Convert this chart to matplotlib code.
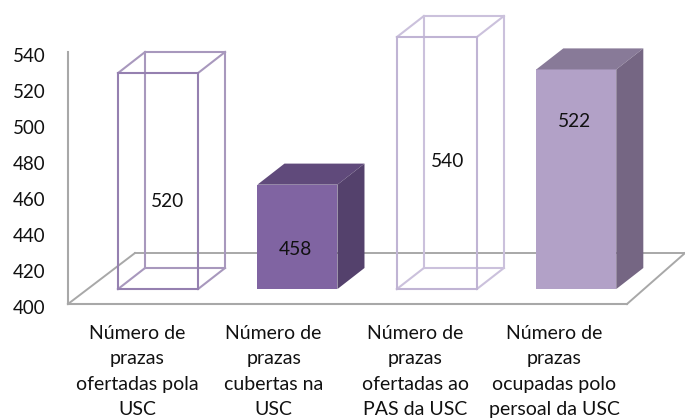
import matplotlib
matplotlib.use("Agg")
import matplotlib.pyplot as plt
from matplotlib.patches import Polygon
from matplotlib.transforms import ScaledTranslation

# Chart data
categories = [
    "Número de\nprazas\nofertadas pola\nUSC",
    "Número de\nprazas\ncubertas na\nUSC",
    "Número de\nprazas\nofertadas ao\nPAS da USC",
    "Número de\nprazas\nocupadas polo\npersoal da USC",
]
values = [520, 458, 540, 522]
y_ticks = [400, 420, 440, 460, 480, 500, 520, 540]

# Fake 3D geometry, in data units
bar_w = 0.574
depth_x = 0.194
depth_y = 11.7
base = 8.3       # the bars stand this far above the front floor line
floor_d = 28.3

W, H = 685, 419
plt.rcParams["font.family"] = ["Lato", "DejaVu Sans"]
fig = plt.figure(figsize=(W / 100, H / 100), dpi=100)
ax = fig.add_axes([68 / W, 1 - 304 / H, (627 - 68) / W, (304 - 52) / H])
ax.set_xlim(-0.6456, 3.364)
ax.set_ylim(400, 540)
ax.patch.set_visible(False)

for s in ["top", "right"]:
    ax.spines[s].set_visible(False)
for s in ["left", "bottom"]:
    ax.spines[s].set_color("#a8a8a8")
    ax.spines[s].set_linewidth(1.5)

ax.set_yticks(y_ticks)
ax.set_xticks([])
ax.tick_params(axis="y", length=0, pad=16, labelsize=13.5, labelcolor="#111111")
# tick labels sit a little below their nominal height in the reference
for tick in ax.yaxis.get_major_ticks():
    tick.label1.set_transform(tick.label1.get_transform() + ScaledTranslation(0, -3 / 100, fig.dpi_scale_trans))

# Floor lines behind the bars
x0, x1 = ax.get_xlim()
floor_color = "#a8a8a8"
ax.plot([x0, x0 + 0.48], [400, 400 + floor_d], color=floor_color, lw=1.4, clip_on=False, zorder=1)
ax.plot([x0 + 0.48, x1 + 0.416], [400 + floor_d, 400 + floor_d], color=floor_color, lw=1.4, clip_on=False, zorder=1)
ax.plot([x1, x1 + 0.416], [400, 400 + floor_d], color=floor_color, lw=1.4, clip_on=False, zorder=1)


def wire_bar(x, top, c_front, c_back):
    l, r = x - bar_w / 2, x + bar_w / 2
    b = 400 + base
    t = top + base
    dx, dy = depth_x, depth_y
    kw = dict(clip_on=False, zorder=3, solid_joinstyle="miter")
    # back box first
    ax.plot([l + dx, r + dx, r + dx, l + dx, l + dx], [b + dy, b + dy, t + dy, t + dy, b + dy], color=c_back, lw=1.5, **kw)
    ax.plot([l, l + dx], [t, t + dy], color=c_back, lw=1.5, **kw)
    ax.plot([r, r + dx], [t, t + dy], color=c_back, lw=1.5, **kw)
    ax.plot([l, l + dx], [b, b + dy], color=c_back, lw=1.5, **kw)
    ax.plot([r, r + dx], [b, b + dy], color=c_back, lw=1.5, **kw)
    ax.plot([l, r, r, l, l], [b, b, t, t, b], color=c_front, lw=1.5, **kw)


def solid_bar(x, top, c_front, c_top, c_side):
    l, r = x - bar_w / 2, x + bar_w / 2
    b = 400 + base
    t = top + base
    dx, dy = depth_x, depth_y
    kw = dict(clip_on=False, zorder=3, lw=0)
    ax.add_patch(Polygon([(l, b), (r, b), (r, t), (l, t)], fc=c_front, **kw))
    ax.add_patch(Polygon([(l, t), (r, t), (r + dx, t + dy), (l + dx, t + dy)], fc=c_top, **kw))
    ax.add_patch(Polygon([(r, b), (r + dx, b + dy), (r + dx, t + dy), (r, t)], fc=c_side, **kw))


wire_bar(0, values[0], "#9580b0", "#a898bd")
solid_bar(1, values[1], "#8064a2", "#604a7b", "#54416c")
wire_bar(2, values[2], "#c0b4d4", "#cbc1dc")
solid_bar(3, values[3], "#b2a1c7", "#887a98", "#756683")

# Value labels sit inside the bars, not at a fixed height
label_x = [0.07, 0.985, 2.08, 2.985]
label_y = [456.7, 430.5, 479.3, 501.5]
for x, y, v in zip(label_x, label_y, values):
    ax.text(x, y, str(v), ha="center", va="center", fontsize=13.8, color="#111111", zorder=5)

# Category labels
label_cx = [-0.151, 0.829, 1.844, 2.84]
for x, txt in zip(label_cx, categories):
    ax.annotate(txt, (x, 400), xytext=(0, -21), textcoords="offset pixels", ha="center", va="top",
                fontsize=14, linespacing=1.6, color="#111111", annotation_clip=False)

plt.savefig("out.png", dpi=100)
